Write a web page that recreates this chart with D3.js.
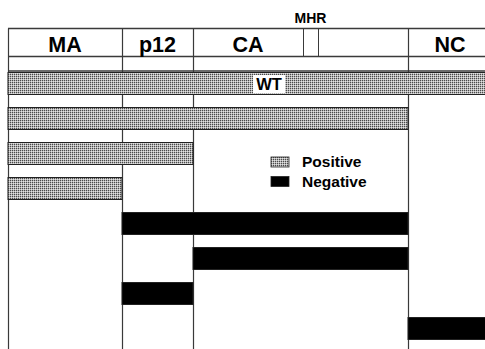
<!DOCTYPE html>
<html><head><meta charset="utf-8">
<script src="https://cdn.jsdelivr.net/npm/d3@7"></script>
<style>html,body{margin:0;padding:0;background:#fff;}svg{display:block;}</style>
</head><body>
<script>
// ---- data ----
const domainNames = ["MA", "p12", "CA", "NC"];
const domainStart = [0, 114, 185, 400];
const domainEnd = [114, 185, 400, 484];
const mhrRegion = [295, 310];
const mhrLabel = "MHR";
const constructs = ["WT", "MA-p12-CA", "MA-p12", "MA", "p12-CA", "CA", "p12", "NC"];
const constructStart = [0, 0, 0, 0, 1, 2, 1, 3];
const constructEnd = [3, 2, 1, 0, 2, 2, 1, 3];
const constructResult = ["Positive", "Positive", "Positive", "Positive", "Negative", "Negative", "Negative", "Negative"];
const legendLabels = ["Positive", "Negative"];

// ---- layout ----
const W = 485, H = 349;
const svg = d3.select("body").append("svg").attr("width", W).attr("height", H);
const defs = svg.append("defs");
const pat = defs.append("pattern").attr("id", "stip").attr("patternUnits", "userSpaceOnUse")
  .attr("width", 2).attr("height", 2);
pat.append("rect").attr("width", 2).attr("height", 2).attr("fill", "#b4b4b4");
pat.append("rect").attr("x", 0).attr("y", 0).attr("width", 1).attr("height", 1).attr("fill", "#4a4a4a");
pat.append("rect").attr("x", 1).attr("y", 1).attr("width", 1).attr("height", 1).attr("fill", "#e2e2e2");

const x = d3.scaleLinear().domain([0, 477]).range([8, 485]);
const y = d3.scaleLinear().domain([0, constructs.length]).range([72, 72 + 35 * constructs.length]);
const barH = 22;
const fillFor = r => r === "Positive" ? "url(#stip)" : "#000";
const lineCol = "#3a3a3a";
const font = "'Liberation Sans', Arial, Helvetica, sans-serif";

const headTop = 28.5, headBot = 56.5, subBot = 71;

// vertical grid lines (domain boundaries)
const bounds = domainStart.concat([domainEnd[domainEnd.length - 1]]);
svg.append("g").selectAll("line").data(bounds).join("line")
  .attr("x1", d => Math.round(x(d)) + 0.5).attr("x2", d => Math.round(x(d)) + 0.5)
  .attr("y1", headTop).attr("y2", H)
  .attr("stroke", lineCol).attr("stroke-width", 1.2);

// horizontal header lines
svg.append("g").selectAll("line").data([headTop, headBot, subBot]).join("line")
  .attr("x1", x(0)).attr("x2", x(domainEnd[3]))
  .attr("y1", d => d).attr("y2", d => d)
  .attr("stroke", lineCol).attr("stroke-width", 1.3);

// MHR lines
svg.append("g").selectAll("line").data(mhrRegion).join("line")
  .attr("x1", d => Math.round(x(d)) + 0.5).attr("x2", d => Math.round(x(d)) + 0.5)
  .attr("y1", headTop).attr("y2", headBot)
  .attr("stroke", lineCol).attr("stroke-width", 1);
svg.append("text").attr("x", x((mhrRegion[0] + mhrRegion[1]) / 2)).attr("y", 23.3)
  .attr("text-anchor", "middle").attr("font-family", font).attr("font-weight", "bold")
  .attr("font-size", 14).text(mhrLabel);

// domain labels (CA label centred on the part before MHR)
svg.append("g").selectAll("text").data(domainNames).join("text")
  .attr("x", (d, i) => i === 2 ? x((domainStart[i] + mhrRegion[0]) / 2) : x((domainStart[i] + domainEnd[i]) / 2))
  .attr("y", 51.5).attr("text-anchor", "middle")
  .attr("font-family", font).attr("font-weight", "bold").attr("font-size", 21.5)
  .text(d => d);

// bars
const rows = constructs.map((c, i) => ({ name: c, i, s: domainStart[constructStart[i]], e: domainEnd[constructEnd[i]], r: constructResult[i] }));
svg.append("g").selectAll("rect").data(rows).join("rect")
  .attr("x", d => x(d.s)).attr("width", d => x(d.e) - x(d.s))
  .attr("y", d => y(d.i) + 0.5).attr("height", barH)
  .attr("fill", d => fillFor(d.r))
  .attr("stroke", "#222").attr("stroke-width", 1);

// WT label with white box
const wt = rows[0];
const wtX = x(261);
svg.append("rect").attr("x", wtX - 16).attr("y", y(0) + 3).attr("width", 32).attr("height", barH - 4).attr("fill", "#fff");
svg.append("text").attr("x", wtX).attr("y", y(0) + 18).attr("text-anchor", "middle")
  .attr("font-family", font).attr("font-weight", "bold").attr("font-size", 16.5).text(wt.name);

// legend
const lg = svg.append("g").attr("transform", "translate(271,157)");
lg.selectAll("rect").data(legendLabels).join("rect")
  .attr("x", 0).attr("y", (d, i) => i * 19.5).attr("width", 18).attr("height", 10)
  .attr("fill", d => fillFor(d)).attr("stroke", "#222").attr("stroke-width", 0.8);
lg.selectAll("text").data(legendLabels).join("text")
  .attr("x", 31).attr("y", (d, i) => 9.5 + i * 20.5)
  .attr("font-family", font).attr("font-weight", "bold").attr("font-size", 15.5)
  .text(d => d);
</script>
</body></html>
